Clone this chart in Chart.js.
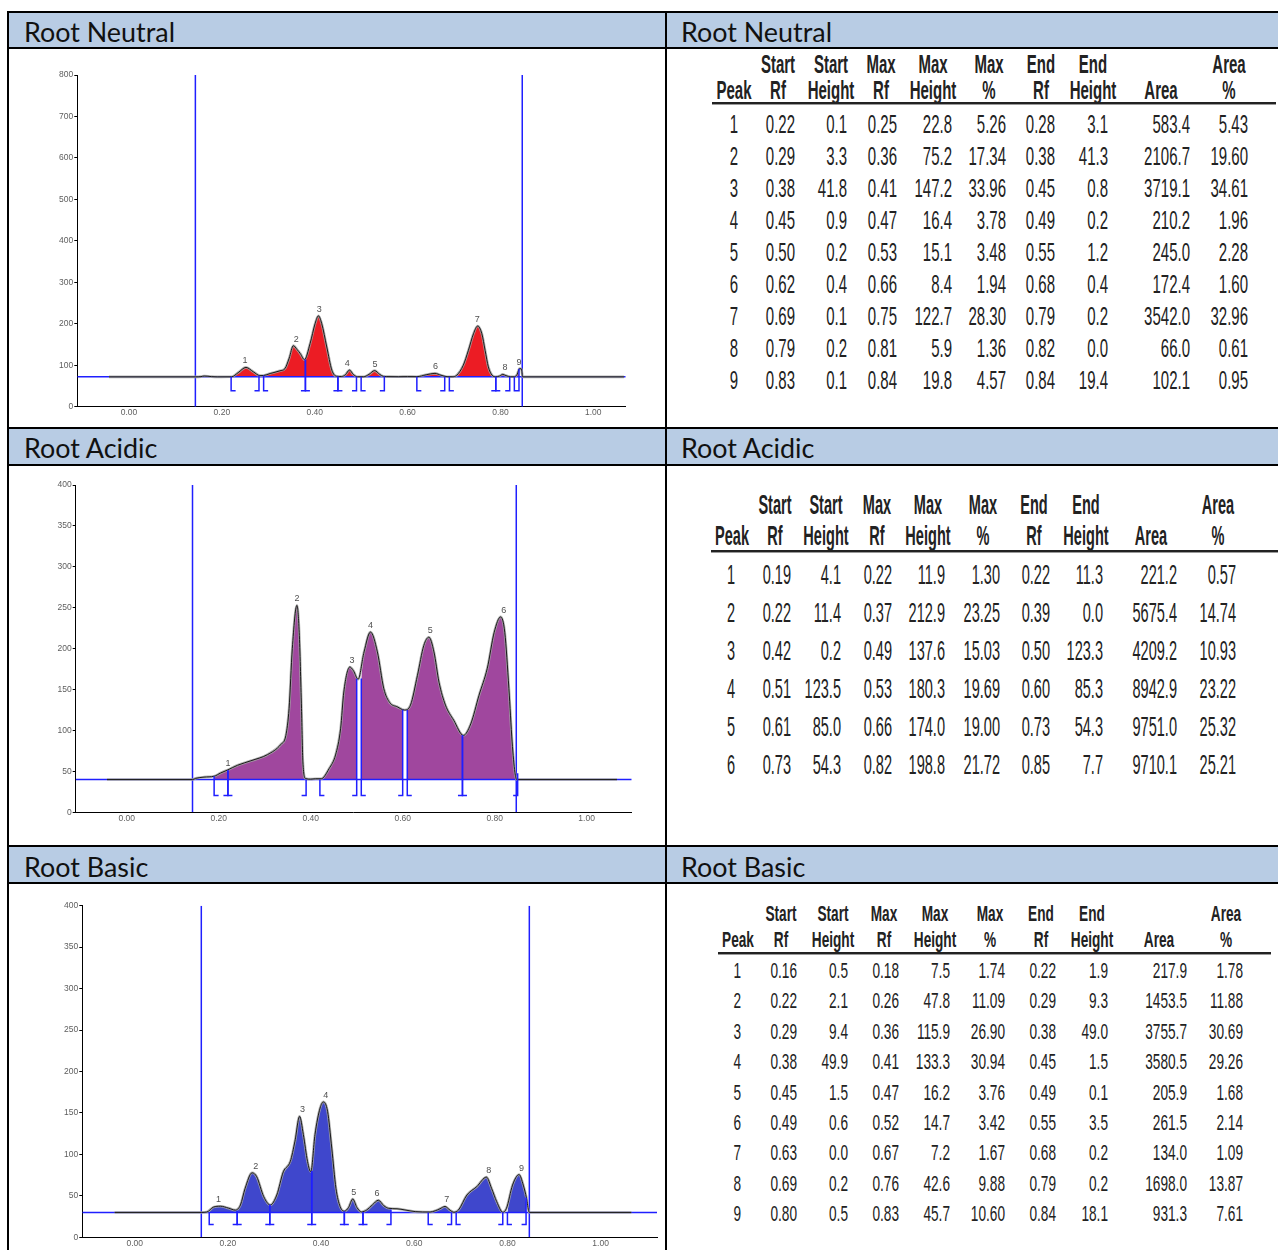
<!DOCTYPE html>
<html>
<head>
<meta charset="utf-8">
<script src="https://cdn.jsdelivr.net/npm/chart.js@4.4.1/dist/chart.umd.min.js"></script>
<style>
  html, body { margin: 0; padding: 0; background: #fff; }
  body { width: 1278px; height: 1250px; position: relative; overflow: hidden; font-family: "Liberation Sans", Arial, sans-serif; }
  .band { position: absolute; left: 9px; width: 1290px; background: #B8CCE4; }
  .rule-h { position: absolute; left: 7px; width: 1290px; height: 2px; background: #000; }
  .rule-v { position: absolute; top: 11px; width: 2px; height: 1250px; background: #000; }
  .title { position: absolute; font-family: Lato, "Noto Sans", sans-serif; font-size: 27px; color: #111; white-space: nowrap; line-height: 1; transform-origin: 0 50%; }
  canvas { position: absolute; }
  .cell { position: absolute; white-space: nowrap; color: #222; line-height: 1; }
  .thead-rule { position: absolute; height: 2px; background: #222; border-bottom: 1px solid #9a9a9a; }
</style>
</head>
<body>
<!-- header bands -->
<div class="band" style="top:13px;height:34px"></div>
<div class="band" style="top:429px;height:35px"></div>
<div class="band" style="top:847px;height:35px"></div>
<!-- grid lines of the layout table -->
<div class="rule-h" style="top:11px"></div>
<div class="rule-h" style="top:47px"></div>
<div class="rule-h" style="top:427px"></div>
<div class="rule-h" style="top:464px"></div>
<div class="rule-h" style="top:845px"></div>
<div class="rule-h" style="top:882px"></div>
<div class="rule-v" style="left:7px"></div>
<div class="rule-v" style="left:665px"></div>

<div class="title" style="left:24px;top:31px">Root Neutral</div>
<div class="title" style="left:681px;top:31px">Root Neutral</div>
<div class="title" style="left:24px;top:447px">Root Acidic</div>
<div class="title" style="left:681px;top:447px">Root Acidic</div>
<div class="title" style="left:24px;top:866px">Root Basic</div>
<div class="title" style="left:681px;top:866px">Root Basic</div>

<canvas id="cNeutral" width="655" height="378" style="left:10px;top:49px"></canvas>
<canvas id="cAcidic" width="655" height="379" style="left:10px;top:466px"></canvas>
<canvas id="cBasic" width="655" height="366" style="left:10px;top:884px"></canvas>

<div id="tables"></div>

<script>
// ---------- shared axis values ----------
const X_TICKS = [0, 0.2, 0.4, 0.6, 0.8, 1.0];
const NEUTRAL_Y_TICKS = [0, 100, 200, 300, 400, 500, 600, 700, 800];
const ACIDIC_Y_TICKS = [0, 50, 100, 150, 200, 250, 300, 350, 400];
const BASIC_Y_TICKS = [0, 50, 100, 150, 200, 250, 300, 350, 400];
const ORIGIN_RF = 0.143;   // application line
const FRONT_RF = 0.847;    // solvent front

// ---------- Root Neutral ----------
const NEUTRAL_BASELINE = 72;
const NEUTRAL_CURVE_RF = [-0.043,0.143,0.155,0.162,0.170,0.178,0.190,0.221,0.235,0.252,0.268,0.282,0.290,0.304,0.325,0.336,0.345,0.354,0.362,0.369,0.378,0.390,0.401,0.408,0.415,0.426,0.437,0.447,0.458,0.466,0.475,0.483,0.492,0.505,0.517,0.529,0.540,0.548,0.560,0.580,0.600,0.620,0.640,0.659,0.672,0.685,0.696,0.706,0.720,0.731,0.742,0.751,0.760,0.767,0.774,0.782,0.790,0.798,0.805,0.812,0.822,0.830,0.836,0.841,0.845,0.848,1.066];
const NEUTRAL_CURVE_H = [0,0,0.5,2,1.5,0.5,0,0.1,10,22.8,12,3,3.3,8,14.5,20,45,75.2,66,56,41.5,80,129,147.2,129,72,16,1.5,0.8,5,16.4,6,0.3,0.2,6,15.1,6,1.2,0.5,0.3,0.6,0.4,5,8.4,4,0.4,0.2,4,28,64,104,122.7,104,64,24,4,0.2,2,5.9,3,0.1,0.1,6,19.8,19.4,0,0];
const NEUTRAL_START_RF = [0.22,0.29,0.38,0.45,0.50,0.62,0.69,0.79,0.83];
const NEUTRAL_START_H = [0.1,3.3,41.8,0.9,0.2,0.4,0.1,0.2,0.1];
const NEUTRAL_MAX_RF = [0.25,0.36,0.41,0.47,0.53,0.66,0.75,0.81,0.84];
const NEUTRAL_MAX_H = [22.8,75.2,147.2,16.4,15.1,8.4,122.7,5.9,19.8];
const NEUTRAL_MAX_PCT = [5.26,17.34,33.96,3.78,3.48,1.94,28.30,1.36,4.57];
const NEUTRAL_END_RF = [0.28,0.38,0.45,0.49,0.55,0.68,0.79,0.82,0.84];
const NEUTRAL_END_H = [3.1,41.3,0.8,0.2,1.2,0.4,0.2,0.0,19.4];
const NEUTRAL_AREA = [583.4,2106.7,3719.1,210.2,245.0,172.4,3542.0,66.0,102.1];
const NEUTRAL_AREA_PCT = [5.43,19.60,34.61,1.96,2.28,1.60,32.96,0.61,0.95];

// ---------- Root Acidic ----------
const ACIDIC_BASELINE = 40;
const ACIDIC_CURVE_RF = [-0.043,0.143,0.150,0.168,0.190,0.204,0.220,0.241,0.270,0.306,0.335,0.346,0.353,0.360,0.370,0.375,0.380,0.383,0.389,0.400,0.410,0.423,0.440,0.454,0.465,0.472,0.485,0.493,0.503,0.516,0.530,0.545,0.559,0.572,0.588,0.604,0.617,0.632,0.646,0.657,0.668,0.679,0.693,0.711,0.732,0.748,0.766,0.784,0.799,0.813,0.822,0.831,0.838,0.844,0.848,1.066];
const ACIDIC_CURVE_H = [0,0,1.5,3,4.1,8,11.9,17.5,23,30.5,43,54,87,160,212.9,180,87,21.6,1.2,0.5,1,1,13.4,30,62,107,137.6,133,122.6,156,180.3,156,111,94,89,85,91,127,164,174,156,119,91,72.5,54,68,103,136,180,198.8,180,111,46,9,0,0];
const ACIDIC_START_RF = [0.19,0.22,0.42,0.51,0.61,0.73];
const ACIDIC_START_H = [4.1,11.4,0.2,123.5,85.0,54.3];
const ACIDIC_MAX_RF = [0.22,0.37,0.49,0.53,0.66,0.82];
const ACIDIC_MAX_H = [11.9,212.9,137.6,180.3,174.0,198.8];
const ACIDIC_MAX_PCT = [1.30,23.25,15.03,19.69,19.00,21.72];
const ACIDIC_END_RF = [0.22,0.39,0.50,0.60,0.73,0.85];
const ACIDIC_END_H = [11.3,0.0,123.3,85.3,54.3,7.7];
const ACIDIC_AREA = [221.2,5675.4,4209.2,8942.9,9751.0,9710.1];
const ACIDIC_AREA_PCT = [0.57,14.74,10.93,23.22,25.32,25.21];

// ---------- Root Basic ----------
const BASIC_BASELINE = 30;
const BASIC_CURVE_RF = [-0.043,0.143,0.155,0.169,0.184,0.2015,0.216,0.227,0.237,0.252,0.262,0.277,0.291,0.305,0.319,0.334,0.344,0.354,0.362,0.371,0.378,0.387,0.398,0.405,0.414,0.423,0.432,0.441,0.450,0.459,0.468,0.477,0.487,0.498,0.510,0.523,0.535,0.545,0.563,0.580,0.602,0.634,0.645,0.655,0.666,0.677,0.685,0.695,0.713,0.734,0.755,0.766,0.777,0.790,0.798,0.811,0.825,0.834,0.841,0.846,0.848,1.066];
const BASIC_CURVE_H = [0,0,0.5,6.4,7.5,5.2,2.8,9,29,47.8,43,19,9,21,49,61.5,86,115.9,94,61.5,49,94,126,133.3,122,77.6,29,7,1.5,6,16.2,6,0.6,3,9,14.7,8,5,4.4,3,1,0.5,2,4.4,7.2,2.6,0.2,3,21,31,42.6,29,13,0.2,5,33,45.7,33,17,1,0,0];
const BASIC_START_RF = [0.16,0.22,0.29,0.38,0.45,0.49,0.63,0.69,0.80];
const BASIC_START_H = [0.5,2.1,9.4,49.9,1.5,0.6,0.0,0.2,0.5];
const BASIC_MAX_RF = [0.18,0.26,0.36,0.41,0.47,0.52,0.67,0.76,0.83];
const BASIC_MAX_H = [7.5,47.8,115.9,133.3,16.2,14.7,7.2,42.6,45.7];
const BASIC_MAX_PCT = [1.74,11.09,26.90,30.94,3.76,3.42,1.67,9.88,10.60];
const BASIC_END_RF = [0.22,0.29,0.38,0.45,0.49,0.55,0.68,0.79,0.84];
const BASIC_END_H = [1.9,9.3,49.0,1.5,0.1,3.5,0.2,0.2,18.1];
const BASIC_AREA = [217.9,1453.5,3755.7,3580.5,205.9,261.5,134.0,1698.0,931.3];
const BASIC_AREA_PCT = [1.78,11.88,30.69,29.26,1.68,2.14,1.09,13.87,7.61];

// ---------- chromatogram drawing ----------
const BLUE = '#1f1fff';

// brackets under the baseline, peak numbers above each maximum
const peakMarks = {
  id: 'peakMarks',
  afterDatasetsDraw(chart, args, o) {
    if (!o || !o.startRf) return;
    const { ctx, scales: { x, y } } = chart;
    const yb = y.getPixelForValue(o.base);
    const yl = yb + o.drop;
    const cap = 4.5;
    ctx.save();
    ctx.strokeStyle = BLUE;
    ctx.lineWidth = 1.5;
    o.startRf.forEach((s, i) => {
      const xs = x.getPixelForValue(s);
      const xe = x.getPixelForValue(o.endRf[i]);
      const ys = y.getPixelForValue(o.base + o.startH[i]);
      const ye = y.getPixelForValue(o.base + o.endH[i]);
      ctx.beginPath();
      ctx.moveTo(xs, Math.min(ys, yb)); ctx.lineTo(xs, yl); ctx.lineTo(xs + cap, yl);
      ctx.moveTo(xe, Math.min(ye, yb)); ctx.lineTo(xe, yl); ctx.lineTo(xe - cap, yl);
      ctx.stroke();
    });
    ctx.fillStyle = '#505050';
    ctx.font = '9px "Liberation Sans", Arial, sans-serif';
    ctx.textAlign = 'center';
    ctx.textBaseline = 'bottom';
    o.maxRf.forEach((m, i) => {
      ctx.fillText(String(i + 1), x.getPixelForValue(m), y.getPixelForValue(o.base + o.maxH[i]) - 2);
    });
    ctx.restore();
  }
};

function curvePoints(rf, h, base) {
  return rf.map((r, i) => ({ x: r, y: base + h[i] }));
}

function peakArea(rf, h, base, s, sh, e, eh) {
  const pts = [{ x: s, y: base + sh }];
  rf.forEach((r, i) => { if (r > s && r < e) pts.push({ x: r, y: base + h[i] }); });
  pts.push({ x: e, y: base + eh });
  return pts;
}

function drawChromatogram(id, c) {
  const yMax = c.yTicks[c.yTicks.length - 1];
  const datasets = [];
  const curve = curvePoints(c.rf, c.h, c.base);
  datasets.push({ data: curve, borderColor: '#1a1a1a', borderWidth: 1, pointRadius: 0, fill: false,
                  cubicInterpolationMode: 'monotone', order: 0 });
  datasets.push({ data: curve, borderColor: 'rgba(165,165,165,0.85)', borderWidth: 2.6, pointRadius: 0, fill: false,
                  cubicInterpolationMode: 'monotone', order: 1 });
  datasets.push({ data: [{ x: c.xMin, y: c.base }, { x: c.xMax, y: c.base }], borderColor: BLUE, borderWidth: 1.5,
                  pointRadius: 0, fill: false, order: 2 });
  [ORIGIN_RF, FRONT_RF].forEach(v => {
    datasets.push({ data: [{ x: v, y: 0 }, { x: v, y: yMax }], borderColor: BLUE, borderWidth: 1.5,
                    pointRadius: 0, fill: false, order: 3 });
  });
  c.startRf.forEach((s, i) => {
    datasets.push({ data: peakArea(c.rf, c.h, c.base, s, c.startH[i], c.endRf[i], c.endH[i]),
                    borderWidth: 0, borderColor: 'rgba(0,0,0,0)', backgroundColor: c.color, pointRadius: 0,
                    fill: { value: c.base }, cubicInterpolationMode: 'monotone', order: 5 });
  });

  const tickFont = { family: '"Liberation Sans", Arial, sans-serif', size: 8.5 };
  new Chart(document.getElementById(id), {
    type: 'line',
    data: { datasets },
    plugins: [peakMarks],
    options: {
      responsive: false, animation: false, devicePixelRatio: 1,
      layout: { padding: c.pad },
      plugins: { legend: { display: false }, tooltip: { enabled: false },
                 peakMarks: { base: c.base, drop: c.drop, startRf: c.startRf, startH: c.startH, endRf: c.endRf,
                              endH: c.endH, maxRf: c.maxRf, maxH: c.maxH } },
      scales: {
        x: { type: 'linear', min: c.xMin, max: c.xMax,
             afterBuildTicks: s => { s.ticks = X_TICKS.map(v => ({ value: v })); },
             afterFit: s => { s.height = c.xAxisH; },
             grid: { display: false, drawTicks: false },
             border: { display: true, color: '#000', width: 1 },
             ticks: { padding: 1, color: '#5e5e5e', font: tickFont, maxRotation: 0, autoSkip: false,
                      callback: v => Number(v).toFixed(2) } },
        y: { type: 'linear', min: 0, max: yMax,
             afterBuildTicks: s => { s.ticks = c.yTicks.map(v => ({ value: v })); },
             afterFit: s => { s.width = c.yAxisW; },
             grid: { display: true, drawOnChartArea: false, drawTicks: true, tickLength: 3, color: '#000' },
             border: { display: true, color: '#000', width: 1 },
             ticks: { padding: 1, color: '#5e5e5e', font: tickFont, autoSkip: false, callback: v => String(v) } }
      }
    }
  });
}

drawChromatogram('cNeutral', {
  rf: NEUTRAL_CURVE_RF, h: NEUTRAL_CURVE_H, base: NEUTRAL_BASELINE, yTicks: NEUTRAL_Y_TICKS,
  startRf: NEUTRAL_START_RF, startH: NEUTRAL_START_H, endRf: NEUTRAL_END_RF, endH: NEUTRAL_END_H,
  maxRf: NEUTRAL_MAX_RF, maxH: NEUTRAL_MAX_H, color: '#EC1C24',
  xMin: -0.1113, xMax: 1.0698, yAxisW: 67.3, xAxisH: 14, pad: { left: 0, top: 26, right: 39.3, bottom: 6.3 }, drop: 14
});
drawChromatogram('cAcidic', {
  rf: ACIDIC_CURVE_RF, h: ACIDIC_CURVE_H, base: ACIDIC_BASELINE, yTicks: ACIDIC_Y_TICKS,
  startRf: ACIDIC_START_RF, startH: ACIDIC_START_H, endRf: ACIDIC_END_RF, endH: ACIDIC_END_H,
  maxRf: ACIDIC_MAX_RF, maxH: ACIDIC_MAX_H, color: '#A0479E',
  xMin: -0.111, xMax: 1.098, yAxisW: 65.7, xAxisH: 14, pad: { left: 0, top: 19, right: 33.3, bottom: 18.7 }, drop: 16
});
drawChromatogram('cBasic', {
  rf: BASIC_CURVE_RF, h: BASIC_CURVE_H, base: BASIC_BASELINE, yTicks: BASIC_Y_TICKS,
  startRf: BASIC_START_RF, startH: BASIC_START_H, endRf: BASIC_END_RF, endH: BASIC_END_H,
  maxRf: BASIC_MAX_RF, maxH: BASIC_MAX_H, color: '#3F47CC',
  xMin: -0.1124, xMax: 1.121, yAxisW: 72.3, xAxisH: 12.7, pad: { left: 0, top: 21.7, right: 8, bottom: 0 }, drop: 12
});

// ---------- peak tables ----------
const HEADER_TOP = ['', 'Start', 'Start', 'Max', 'Max', 'Max', 'End', 'End', '', 'Area'];
const HEADER_BOTTOM = ['Peak', 'Rf', 'Height', 'Rf', 'Height', '%', 'Rf', 'Height', 'Area', '%'];

const host = document.getElementById('tables');
function addCell(text, x, y, align, size, k, bold) {
  const d = document.createElement('div');
  d.className = 'cell';
  d.textContent = text;
  d.style.left = x + 'px';
  d.style.top = y + 'px';
  d.style.fontSize = size + 'px';
  if (bold) d.style.fontWeight = 'bold';
  if (align === 'right') {
    d.style.transformOrigin = '100% 50%';
    d.style.transform = 'translate(-100%,-50%) scaleX(' + k + ')';
  } else {
    d.style.transformOrigin = '50% 50%';
    d.style.transform = 'translate(-50%,-50%) scaleX(' + k + ')';
  }
  host.appendChild(d);
}

function drawTable(t) {
  HEADER_TOP.forEach((s, c) => { if (s) addCell(s, t.hdrX[c], t.hdrY[0], 'center', t.size, t.k, true); });
  HEADER_BOTTOM.forEach((s, c) => addCell(s, t.hdrX[c], t.hdrY[1], 'center', t.size, t.k, true));
  const r = document.createElement('div');
  r.className = 'thead-rule';
  r.style.left = t.rule[0] + 'px';
  r.style.width = (t.rule[1] - t.rule[0]) + 'px';
  r.style.top = t.rule[2] + 'px';
  host.appendChild(r);
  const cols = [
    t.startRf.map((_, i) => String(i + 1)),
    t.startRf.map(v => v.toFixed(2)),
    t.startH.map(v => v.toFixed(1)),
    t.maxRf.map(v => v.toFixed(2)),
    t.maxH.map(v => v.toFixed(1)),
    t.maxPct.map(v => v.toFixed(2)),
    t.endRf.map(v => v.toFixed(2)),
    t.endH.map(v => v.toFixed(1)),
    t.area.map(v => v.toFixed(1)),
    t.areaPct.map(v => v.toFixed(2))
  ];
  cols.forEach((col, c) => col.forEach((s, i) => addCell(s, t.valX[c], t.row0 + i * t.rowStep, 'right', t.size, t.k, false)));
}

drawTable({
  startRf: NEUTRAL_START_RF, startH: NEUTRAL_START_H, maxRf: NEUTRAL_MAX_RF, maxH: NEUTRAL_MAX_H,
  maxPct: NEUTRAL_MAX_PCT, endRf: NEUTRAL_END_RF, endH: NEUTRAL_END_H, area: NEUTRAL_AREA, areaPct: NEUTRAL_AREA_PCT,
  hdrX: [734, 778, 831, 881, 933, 989, 1041, 1093, 1161, 1229],
  valX: [738, 795, 847, 897, 952, 1006, 1055, 1108, 1190, 1248],
  hdrY: [64, 90], rule: [712, 1276, 102], row0: 124, rowStep: 32, size: 25, k: 0.6
});
drawTable({
  startRf: ACIDIC_START_RF, startH: ACIDIC_START_H, maxRf: ACIDIC_MAX_RF, maxH: ACIDIC_MAX_H,
  maxPct: ACIDIC_MAX_PCT, endRf: ACIDIC_END_RF, endH: ACIDIC_END_H, area: ACIDIC_AREA, areaPct: ACIDIC_AREA_PCT,
  hdrX: [732, 775, 826, 877, 928, 983, 1034, 1086, 1151, 1218],
  valX: [735, 791, 841, 892, 945, 1000, 1050, 1103, 1177, 1236],
  hdrY: [505, 536], rule: [711, 1280, 550], row0: 575, rowStep: 38, size: 28, k: 0.52
});
drawTable({
  startRf: BASIC_START_RF, startH: BASIC_START_H, maxRf: BASIC_MAX_RF, maxH: BASIC_MAX_H,
  maxPct: BASIC_MAX_PCT, endRf: BASIC_END_RF, endH: BASIC_END_H, area: BASIC_AREA, areaPct: BASIC_AREA_PCT,
  hdrX: [738, 781, 833, 884, 935, 990, 1041, 1092, 1159, 1226],
  valX: [741, 797, 848, 899, 950, 1005, 1056, 1108, 1187, 1243],
  hdrY: [914, 940], rule: [718, 1271, 952], row0: 971, rowStep: 30.4, size: 22, k: 0.62
});

// ---------- section titles: same visual width as the document's heading font ----------
const titles = document.querySelectorAll('.title');
const w0 = titles[0].getBoundingClientRect().width;
const tk = 151 / w0;
titles.forEach(t => { t.style.transform = 'translateY(-50%) scaleX(' + tk.toFixed(3) + ')'; });
</script>
</body>
</html>
